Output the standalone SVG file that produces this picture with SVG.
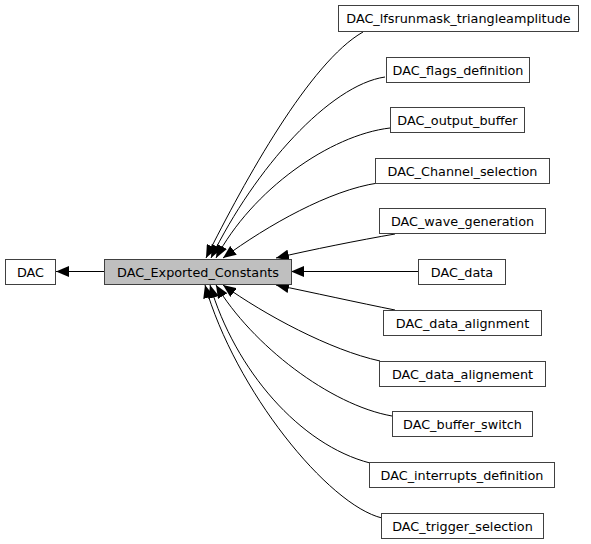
<svg xmlns="http://www.w3.org/2000/svg" width="591" height="544" viewBox="0 0 591 544">
<style>
.n rect{fill:#ffffff;stroke:#404040;stroke-width:1}
.n.c rect{fill:#bfbfbf}
.n text{font-family:"DejaVu Sans",sans-serif;font-size:12.8px;fill:#000000;text-anchor:middle}
.e path{fill:none;stroke:#000000;stroke-width:1;marker-end:url(#ah)}
</style>
<defs>
<marker id="ah" viewBox="0 0 13 11" refX="13" refY="5.5" markerWidth="13" markerHeight="11" markerUnits="userSpaceOnUse" orient="auto">
<path d="M0,0 L13,5.5 L0,11 z" fill="#000000"/>
</marker>
</defs>
<g id="edges" class="e">
<path d="M104,271.5 L56,271.5"/>
<path d="M363,32 C310,62 245,180 206,258"/>
<path d="M385,77 C330,85 255,168 211,258"/>
<path d="M390,128 C330,135 252,190 216,258"/>
<path d="M378,183 C330,190 268,225 223,258"/>
<path d="M395,234 C360,240 310,250 276,258"/>
<path d="M418,271.5 L291,271.5"/>
<path d="M395,310 C360,303 310,292 276,285"/>
<path d="M380,361 C330,350 265,315 223,285"/>
<path d="M392,416 C330,405 252,345 216,285"/>
<path d="M370,463 C300,445 235,370 210,285"/>
<path d="M382,518 C328,505 235,390 205,285"/>
</g>
<g id="node-dac" class="n"><rect x="5.5" y="259.5" width="50" height="25"/><text x="30.5" y="276.5">DAC</text></g>
<g id="node-exported" class="n c"><rect x="104.5" y="259.5" width="187" height="25"/><text x="198" y="276.5">DAC_Exported_Constants</text></g>
<g id="node-lfsr" class="n"><rect x="338.5" y="5.5" width="240" height="26"/><text x="458.5" y="23">DAC_lfsrunmask_triangleamplitude</text></g>
<g id="node-flags" class="n"><rect x="386.5" y="57.5" width="143" height="25"/><text x="458" y="74.5">DAC_flags_definition</text></g>
<g id="node-output" class="n"><rect x="390.5" y="107.5" width="134" height="25"/><text x="457.5" y="124.5">DAC_output_buffer</text></g>
<g id="node-channel" class="n"><rect x="375.5" y="158.5" width="174" height="25"/><text x="462.5" y="175.5">DAC_Channel_selection</text></g>
<g id="node-wave" class="n"><rect x="379.5" y="208.5" width="166" height="25"/><text x="462.5" y="225.5">DAC_wave_generation</text></g>
<g id="node-data" class="n"><rect x="418.5" y="259.5" width="87" height="25"/><text x="462" y="276.5">DAC_data</text></g>
<g id="node-alignment" class="n"><rect x="383.5" y="310.5" width="158" height="25"/><text x="462.5" y="327.5">DAC_data_alignment</text></g>
<g id="node-alignement" class="n"><rect x="379.5" y="361.5" width="166" height="25"/><text x="462.5" y="378.5">DAC_data_alignement</text></g>
<g id="node-buffer" class="n"><rect x="392.5" y="411.5" width="140" height="25"/><text x="462.5" y="428.5">DAC_buffer_switch</text></g>
<g id="node-interrupts" class="n"><rect x="369.5" y="462.5" width="185" height="25"/><text x="462" y="479.5">DAC_interrupts_definition</text></g>
<g id="node-trigger" class="n"><rect x="381.5" y="513.5" width="162" height="25"/><text x="462.5" y="530.5">DAC_trigger_selection</text></g>
</svg>
